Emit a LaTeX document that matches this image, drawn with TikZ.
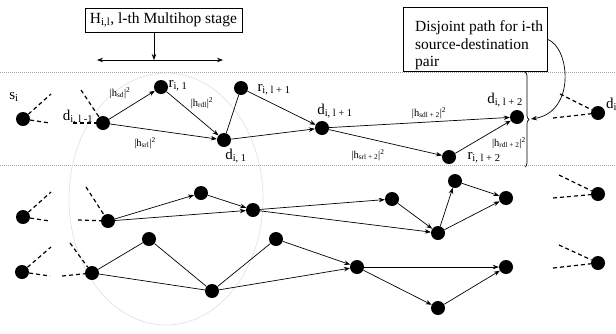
\documentclass[tikz,border=0pt]{standalone}
\usepackage{fontspec}
\setmainfont{Liberation Serif}
\usetikzlibrary{positioning}
\usetikzlibrary{arrows.meta}
\usetikzlibrary{decorations.pathreplacing}
\tikzset{main node/.style={circle,fill=black,minimum size=14pt, inner sep=0pt},
  stub/.style={line width=1.2pt,dash pattern=on 4pt off 3pt},
  hop/.style={line width=0.7pt,-{Stealth[length=6pt,width=4.5pt]}},
  plain hop/.style={line width=0.7pt},
  sep line/.style={gray!70,line width=0.6pt,dash pattern=on 1pt off 1pt},
  note box/.style={draw,line width=0.8pt,font=\fontsize{15.5}{17.5}\selectfont},
  note text/.style={inner sep=0pt,font=\fontsize{15.5}{17.5}\selectfont},
  node tag/.style={inner sep=0pt,font=\fontsize{15}{15}\selectfont},
  gain/.style={inner sep=0pt,font=\fontsize{10.5}{10.5}\selectfont},}

\begin{document}
\begin{tikzpicture}[x=1pt,y=-1pt]
          \useasboundingbox (0,0) rectangle (616,333);
          \draw[sep line] (0,72) -- (616,72);
          \draw[sep line] (0,165) -- (616,165);
          \draw[gray!25,line width=0.6pt] (166,199) ellipse [x radius=97, y radius=126];

          % first source-destination pair
          \node[main node] (si) at (23,119) {};
          \node[main node] (dprev) at (103,123) {};
          \node[main node] (r1) at (161,87) {};
          \node[main node] (d1) at (224,140) {};
          \node[main node] (rnext) at (241,88) {};
          \node[main node] (dnext) at (322,128) {};
          \node[main node] (rlast) at (449,157) {};
          \node[main node] (dlast) at (517,117) {};
          \node[main node] (di) at (598,113) {};

          \node[node tag] (si lbl) at (14,97) {s\textsubscript{i}};
          \node[node tag] (dprev lbl) at (78,117) {d\textsubscript{i, l -1}};
          \node[node tag] (r1 lbl) at (178,86) {r\textsubscript{i, 1}};
          \node[node tag] (d1 lbl) at (236,156) {d\textsubscript{i, 1}};
          \node[node tag] (rnext lbl) at (274,90) {r\textsubscript{i, l + 1}};
          \node[node tag] (dnext lbl) at (335,111) {d\textsubscript{i, l + 1}};
          \node[node tag] (rlast lbl) at (484,158) {r\textsubscript{i, l + 2}};
          \node[node tag] (dlast lbl) at (505,100) {d\textsubscript{i, l + 2}};
          \node[node tag,anchor=west] (di lbl) at (606,104) {d\textsubscript{i}};

          \node[gain] (g1) at (120,93) {|h\textsubscript{sd}|\textsuperscript{2}};
          \node[gain] (g2) at (202,103) {|h\textsubscript{rdl}|\textsuperscript{2}};
          \node[gain] (g3) at (145,143) {|h\textsubscript{srl}|\textsuperscript{2}};
          \node[gain] (g4) at (429,113) {|h\textsubscript{sdl + 2}|\textsuperscript{2}};
          \node[gain] (g5) at (368,155) {|h\textsubscript{srl + 2}|\textsuperscript{2}};
          \node[gain] (g6) at (509,143) {|h\textsubscript{rdl + 2}|\textsuperscript{2}};

          % second pair
          \node[main node] (m0) at (23,217) {};
          \node[main node] (m1) at (108,221) {};
          \node[main node] (m2) at (201,193) {};
          \node[main node] (m3) at (253,210) {};
          \node[main node] (m4) at (392,199) {};
          \node[main node] (m5) at (438,233) {};
          \node[main node] (m6) at (455,181) {};
          \node[main node] (m7) at (506,198) {};
          \node[main node] (m8) at (598,194) {};

          % third pair
          \node[main node] (b0) at (22,272) {};
          \node[main node] (b1) at (92,273) {};
          \node[main node] (b2) at (149,239) {};
          \node[main node] (b3) at (212,291) {};
          \node[main node] (b4) at (276,239) {};
          \node[main node] (b5) at (357,267) {};
          \node[main node] (b6) at (506,267) {};
          \node[main node] (b7) at (438,308) {};
          \node[main node] (b8) at (598,263) {};

          % loose dashed ends
          \coordinate (si up) at (51,94);   \coordinate (si rt) at (50,123);
          \coordinate (dprev up) at (81,90); \coordinate (dprev lt) at (73,123);
          \coordinate (m0 up) at (51,192);  \coordinate (m0 rt) at (50,221);
          \coordinate (m1 up) at (86,187);  \coordinate (m1 lt) at (78,220);
          \coordinate (b0 up) at (51,247);  \coordinate (b0 rt) at (50,276);
          \coordinate (b1 up) at (70,243);  \coordinate (b1 lt) at (62,276);
          \coordinate (di up) at (560,94);  \coordinate (di lt) at (553,118);
          \coordinate (m8 up) at (559,175); \coordinate (m8 lt) at (553,198);
          \coordinate (b8 up) at (559,245); \coordinate (b8 lt) at (553,268);
          \path[stub]
          (si) edge (si up) (si) edge (si rt)
          (dprev up) edge (dprev) (dprev lt) edge (dprev)
          (m0) edge (m0 up) (m0) edge (m0 rt)
          (m1 up) edge (m1) (m1 lt) edge (m1)
          (b0) edge (b0 up) (b0) edge (b0 rt)
          (b1 up) edge (b1) (b1 lt) edge (b1)
          (di up) edge (di) (di lt) edge (di)
          (m8 up) edge (m8) (m8 lt) edge (m8)
          (b8 up) edge (b8) (b8 lt) edge (b8);

          \path[hop]
          (dprev) edge (r1)
          (dprev) edge (d1)
          (r1) edge (d1)
          (rnext) edge (dnext)
          (d1) edge (dnext)
          (dnext) edge (dlast)
          (dnext) edge (rlast)
          (rlast) edge (dlast)
          (m1) edge (m2)
          (m1) edge (m3)
          (m2) edge (m3)
          (m3) edge (m4)
          (m3) edge (m5)
          (m4) edge (m5)
          (m5) edge (m6)
          (m6) edge (m7)
          (m5) edge (m7)
          (b4) edge (b5)
          (b3) edge (b5)
          (b5) edge (b6)
          (b5) edge (b7)
          (b7) edge (b6);
          \path[plain hop]
          (d1) edge (rnext)
          (b1) edge (b2)
          (b1) edge (b3)
          (b2) edge (b3)
          (b3) edge (b4);

          % stage box
          \node[note box, minimum width=157pt, minimum height=24pt] (stage) at (163.5,20) {H\textsubscript{i,l}, l-th Multihop stage};
          \coordinate (span l) at (97,60);
          \coordinate (span m) at (154,60);
          \coordinate (span r) at (223,60);
          \draw[hop, {Stealth[length=6pt,width=4.5pt]}-{Stealth[length=6pt,width=4.5pt]}] (span l) -- (span r);
          \draw[hop] (stage.south -| span m) -- (span m);

          % disjoint path box
          \node[note box, anchor=north west, minimum width=144pt, minimum height=64pt] (disj) at (403,7) {};
          \node[note text, anchor=south west, align=left] (disj txt) at (415,70) {Disjoint path for i-th\\ source-destination\\ pair};
          \coordinate (brace top) at (525,72);
          \coordinate (brace bot) at (525,167);
          \coordinate (brace tip) at (531,119);
          \draw[decorate, decoration={brace, amplitude=4pt}, line width=0.7pt] (brace top) -- (brace bot);
          \draw[hop] (disj.east) .. controls (570,48) and (576,112) .. (brace tip);
        \end{tikzpicture}
\end{document}
